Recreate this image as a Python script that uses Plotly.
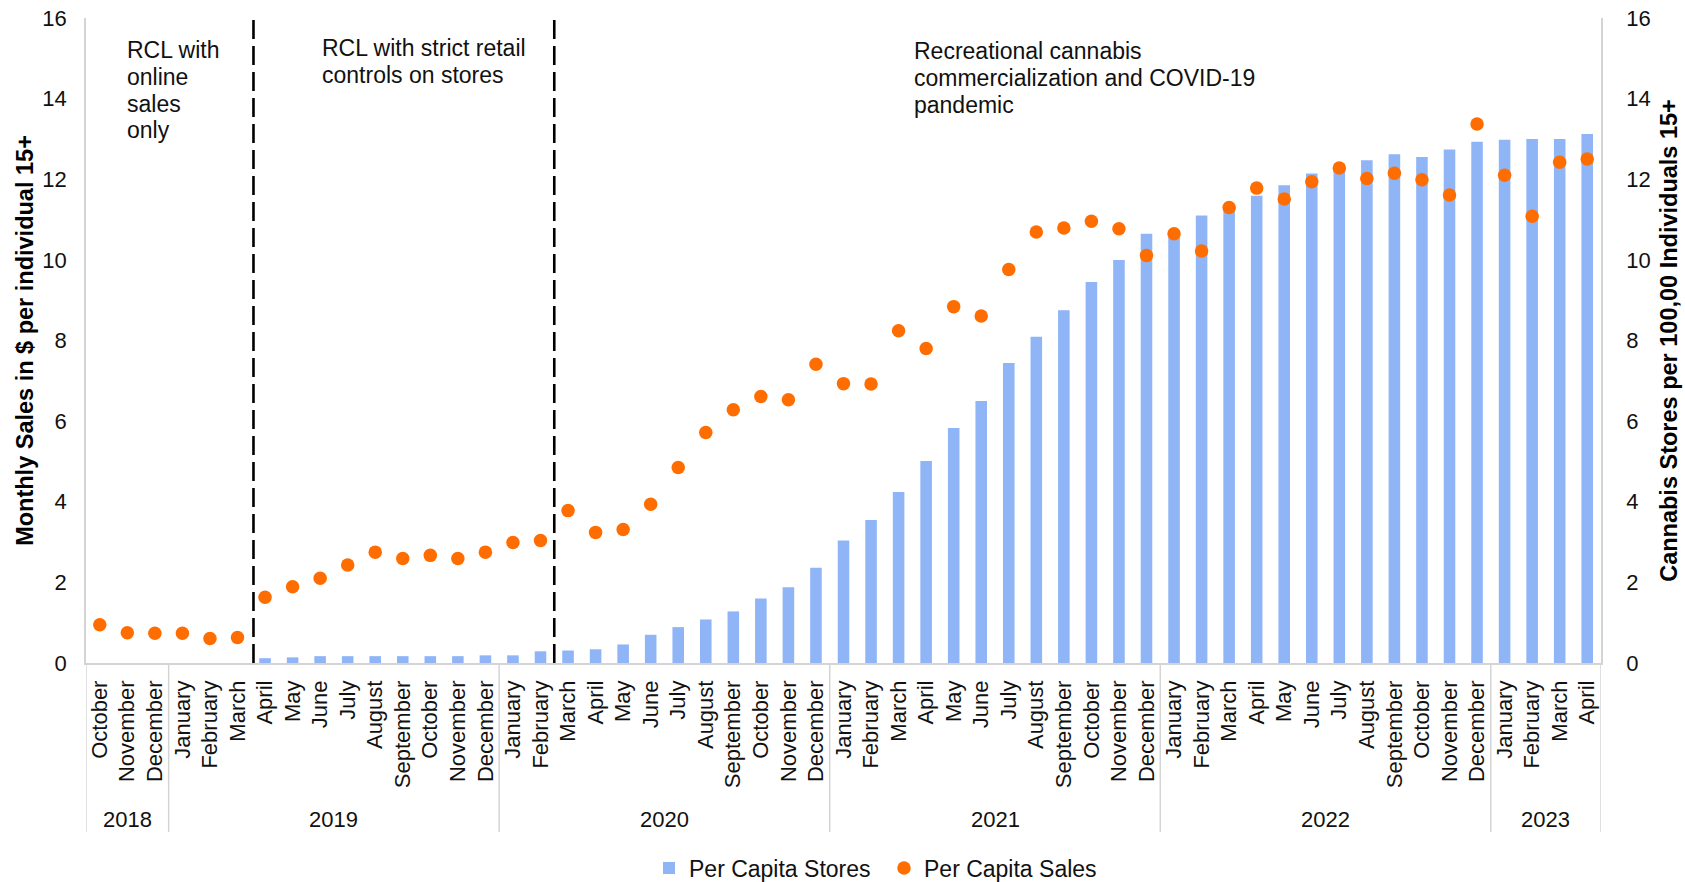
import plotly.graph_objects as go

months = ["October", "November", "December",
          "January", "February", "March", "April", "May", "June", "July", "August",
          "September", "October", "November", "December",
          "January", "February", "March", "April", "May", "June", "July", "August",
          "September", "October", "November", "December",
          "January", "February", "March", "April", "May", "June", "July", "August",
          "September", "October", "November", "December",
          "January", "February", "March", "April", "May", "June", "July", "August",
          "September", "October", "November", "December",
          "January", "February", "March", "April"]
years = (["2018"] * 3 + ["2019"] * 12 + ["2020"] * 12 + ["2021"] * 12
         + ["2022"] * 12 + ["2023"] * 4)

per_capita_stores = [None, None, None, None, None, None,
                     0.12, 0.14, 0.17, 0.17, 0.17, 0.17, 0.17, 0.17, 0.19,
                     0.19, 0.29, 0.31, 0.34, 0.46, 0.70, 0.89, 1.08, 1.28, 1.60, 1.88, 2.36,
                     3.04, 3.55, 4.24, 5.01, 5.83, 6.50, 7.44, 8.09, 8.75, 9.45, 10.00, 10.65,
                     10.72, 11.10, 11.30, 11.59, 11.85, 12.14, 12.27, 12.47, 12.62, 12.55, 12.74, 12.93,
                     12.98, 13.00, 13.00, 13.12]

per_capita_sales = [0.95, 0.75, 0.74,
                    0.74, 0.61, 0.63, 1.63, 1.89, 2.10, 2.43, 2.75, 2.59, 2.67, 2.59, 2.75,
                    2.99, 3.04, 3.78, 3.24, 3.31, 3.94, 4.85, 5.72, 6.28, 6.61, 6.53, 7.41,
                    6.93, 6.92, 8.24, 7.80, 8.84, 8.61, 9.76, 10.69, 10.79, 10.96, 10.77, 10.11,
                    10.65, 10.22, 11.30, 11.78, 11.51, 11.94, 12.28, 12.02, 12.15, 11.99, 11.61, 13.37,
                    12.10, 11.08, 12.42, 12.50]

phase_lines = [["RCL with", "online", "sales", "only"],
               ["RCL with strict retail", "controls on stores"],
               ["Recreational cannabis", "commercialization and COVID-19", "pandemic"]]
phase_x = [0.9, 8.0, 29.5]          # category position of each phase note
phase_top_px = [50, 48, 51]          # first-line centre, px from top of figure
phase_breaks = [5.58, 16.5]          # dashed separators between phases

FONT = "Liberation Sans, Arial, sans-serif"
TXT = "#111111"
GRID = "#d4d4d4"
W, H = 1685, 882
ML, MR, MT, MB = 86, 84, 18, 219
PW = W - ML - MR
PH = H - MT - MB
n = len(months)
idx = list(range(n))


def py(px):
    """figure pixel row -> paper y"""
    return (H - MB - px) / PH


fig = go.Figure()
fig.add_trace(go.Bar(
    x=idx, y=per_capita_stores, name="Per Capita Stores", yaxis="y",
    marker=dict(color="#8fb5f7", line=dict(width=0)),
))
fig.add_trace(go.Scatter(
    x=idx, y=per_capita_sales, name="Per Capita Sales", mode="markers", yaxis="y2",
    marker=dict(color="#ff6d00", size=13.5, line=dict(width=0)),
))

# dashed phase separators
for b in phase_breaks:
    fig.add_shape(type="line", xref="x", yref="paper", x0=b, x1=b, y0=0, y1=py(13),
                  line=dict(color="black", width=2.6, dash="19px,7px"), layer="above")

# phase notes
for lines, xp, top in zip(phase_lines, phase_x, phase_top_px):
    for k, t in enumerate(lines):
        fig.add_annotation(text=t, xref="x", yref="paper", x=xp, y=py(top + k * 26.8),
                           xanchor="left", yanchor="middle", showarrow=False,
                           font=dict(family=FONT, size=23, color=TXT))

# year group labels and dividers
groups = []
for i, y in enumerate(years):
    if not groups or groups[-1][0] != y:
        groups.append([y, i, i])
    else:
        groups[-1][2] = i
bounds = [g[1] - 0.5 for g in groups] + [groups[-1][2] + 0.5]
for b in bounds:
    fig.add_shape(type="line", xref="x", yref="paper", x0=b, x1=b, y0=0, y1=py(832),
                  line=dict(color=GRID, width=1.5))
for y, i0, i1 in groups:
    fig.add_annotation(text=y, xref="x", yref="paper", x=(i0 + i1) / 2, y=py(819),
                       xanchor="center", yanchor="middle", showarrow=False,
                       font=dict(family=FONT, size=22, color=TXT))

axis_common = dict(range=[0, 16], dtick=2, showgrid=False, zeroline=False,
                   showline=True, linecolor=GRID, linewidth=1.5, ticks="",
                   automargin=False,
                   tickfont=dict(family=FONT, size=22, color=TXT))

fig.update_layout(
    width=W, height=H,
    margin=dict(l=ML, r=MR, t=MT, b=MB, autoexpand=False),
    paper_bgcolor="white", plot_bgcolor="white",
    font=dict(family=FONT, size=22, color=TXT),
    bargap=0.58,
    showlegend=True,
    legend=dict(orientation="h", x=(649 - ML) / PW, xanchor="left",
                yref="container", y=(H - 868) / H, yanchor="middle",
                font=dict(family=FONT, size=23, color=TXT), itemwidth=30,
                entrywidth=190, traceorder="normal"),
    xaxis=dict(range=[-0.5, n - 0.5], tickmode="array", tickvals=idx, ticktext=months,
               tickangle=-90, showline=True, linecolor=GRID, linewidth=1.5,
               ticks="", showgrid=False, zeroline=False, automargin=False,
               ticklabelstandoff=7,
               tickfont=dict(family=FONT, size=22, color=TXT)),
    yaxis=dict(side="right", ticklabelstandoff=19,
               title=dict(text="<b>Cannabis Stores per 100,00 Individuals 15+</b>",
                          font=dict(family=FONT, size=23.5, color="black"), standoff=11),
               **axis_common),
    yaxis2=dict(side="left", overlaying="y", anchor="x", ticklabelstandoff=13,
                title=dict(text="<b>Monthly Sales in $ per individual 15+</b>",
                           font=dict(family=FONT, size=23.5, color="black"), standoff=2),
                **axis_common),
)

fig.write_html("out.html")
